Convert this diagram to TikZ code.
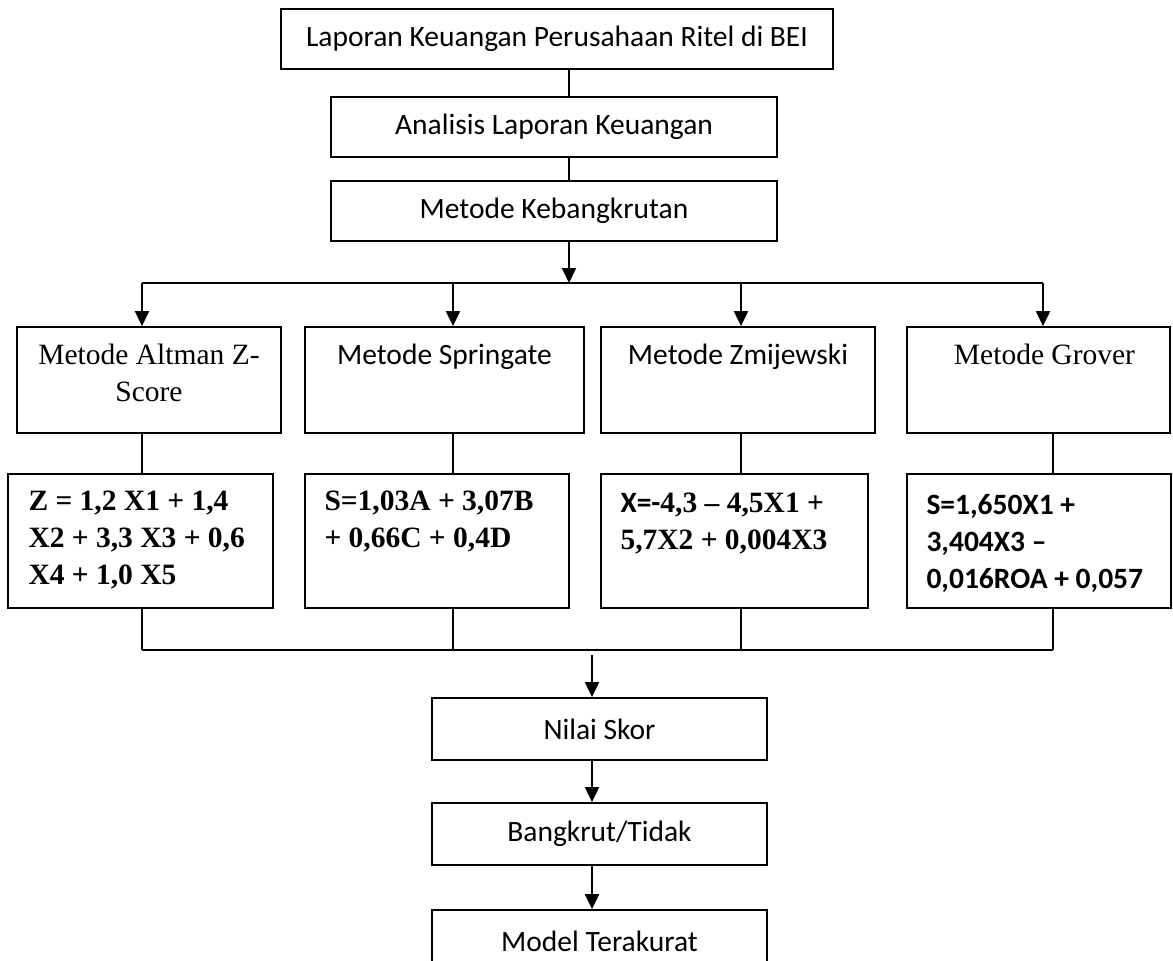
\documentclass[tikz,border=0pt]{standalone}
\usepackage{fontspec}
\setmainfont{Carlito}
\newfontfamily\timesfont{Liberation Serif}
\usetikzlibrary{arrows.meta,positioning,calc}

\begin{document}
\begin{tikzpicture}[x=0.5pt, y=-0.5pt, >={Triangle[length=7.5pt,width=7pt]},
    box/.style={rectangle, draw, line width=0.9pt, inner sep=0pt, font=\fontsize{14.75}{18.5}\selectfont},
    ttl/.style={inner sep=0pt, align=center, font=\fontsize{14.75}{18.5}\selectfont},
    fml/.style={inner sep=0pt, align=left, font=\fontsize{14.75}{18.5}\selectfont\bfseries},
    link/.style={line width=0.7pt},
    bar/.style={line width=1pt},
    arr/.style={->, line width=1pt}]
  \useasboundingbox (0,0) rectangle (1173,960);

  % Top chain
  \node[box, minimum width=276pt, minimum height=30pt] (lap) at (557,39) {Laporan Keuangan Perusahaan Ritel di BEI};
  \node[box, minimum width=223pt, minimum height=30pt] (anl) at (554,127) {Analisis Laporan Keuangan};
  \node[box, minimum width=223pt, minimum height=30pt] (kbg) at (554,211) {Metode Kebangkrutan};

  % Methods
  \node[box, minimum width=132pt, minimum height=53pt] (alt) at (149,380) {};
  \node[box, minimum width=139.5pt, minimum height=53pt] (spr) at (444.5,380) {};
  \node[box, minimum width=137pt, minimum height=53pt] (zmi) at (738,380) {};
  \node[box, minimum width=131.5pt, minimum height=53pt] (gro) at (1038.5,380) {};
  \node[ttl, anchor=base, yshift=-37.5pt] at (alt.north) {\timesfont Metode Altman Z-\\\timesfont Score};
  \node[ttl, anchor=base, yshift=-19pt] at (spr.north) {Metode Springate};
  \node[ttl, anchor=base, yshift=-19pt] at (zmi.north) {Metode Zmijewski};
  \node[ttl, anchor=base, yshift=-19pt, xshift=3pt] at (gro.north) {\timesfont Metode Grover};

  % Formulas
  \node[box, minimum width=132.5pt, minimum height=67pt] (altf) at (140.5,541) {};
  \node[box, minimum width=132pt, minimum height=67pt] (sprf) at (437,541) {};
  \node[box, minimum width=133.5pt, minimum height=67pt] (zmif) at (734.5,541) {};
  \node[box, minimum width=132pt, minimum height=67pt] (grof) at (1039,541) {};
  \node[fml, anchor=base west, xshift=10.5pt, yshift=-55.5pt] at (altf.north west)
    {\timesfont Z = 1,2 X1 + 1,4\\\timesfont X2 + 3,3 X3 + 0,6\\\timesfont X4 + 1,0 X5};
  \node[fml, anchor=base west, xshift=10pt, yshift=-37pt] at (sprf.north west)
    {\timesfont S=1,03A + 3,07B\\\timesfont + 0,66C + 0,4D};
  \node[fml, anchor=base west, xshift=10pt, yshift=-38pt] at (zmif.north west)
    {X=-{\timesfont 4,3 – 4,5X1 +}\\\timesfont 5,7X2 + 0,004X3};
  \node[fml, anchor=base west, xshift=10pt, yshift=-57.5pt] at (grof.north west)
    {S=1,650X1 +\\3,404X3 –\\0,016ROA + 0,057};

  % Result chain
  \node[box, minimum width=167.5pt, minimum height=31pt] (nil) at (599.5,729) {Nilai Skor};
  \node[box, minimum width=167.5pt, minimum height=31pt] (bkt) at (599.5,834) {Bangkrut/Tidak};
  \node[box, minimum width=167.5pt, minimum height=31pt] (mdl) at (599.5,941) {Model Terakurat};

  % Connectors
  \coordinate (spine) at (569,0);
  \coordinate (c1) at (142,283);
  \coordinate (c2) at (453,283);
  \coordinate (c3) at (741,283);
  \coordinate (c4) at (1043,283);
  \coordinate (d1) at (142,650);
  \coordinate (d4) at (1053,650);
  \coordinate (mid) at (592,655);

  \draw[link] (lap.south -| spine) -- (anl.north -| spine);
  \draw[link] (anl.south -| spine) -- (kbg.north -| spine);
  \draw[arr] (kbg.south -| spine) -- (c1 -| spine);
  \draw[bar] (c1) -- (c4);
  \draw[arr] (c1) -- (c1 |- alt.north);
  \draw[arr] (c2) -- (c2 |- spr.north);
  \draw[arr] (c3) -- (c3 |- zmi.north);
  \draw[arr] (c4) -- (c4 |- gro.north);

  \draw[link] (alt.south -| c1) -- (altf.north -| c1);
  \draw[link] (spr.south -| c2) -- (sprf.north -| c2);
  \draw[link] (zmi.south -| c3) -- (zmif.north -| c3);
  \draw[link] (gro.south -| d4) -- (grof.north -| d4);

  \draw[link] (altf.south -| d1) -- (d1);
  \draw[link] (sprf.south -| c2) -- (d1 -| c2);
  \draw[link] (zmif.south -| c3) -- (d1 -| c3);
  \draw[link] (grof.south -| d4) -- (d4);
  \draw[bar] (d1) -- (d4);

  \draw[arr] (mid) -- (mid |- nil.north);
  \draw[arr] (nil.south -| mid) -- (bkt.north -| mid);
  \draw[arr] (bkt.south -| mid) -- (mdl.north -| mid);
\end{tikzpicture}
\end{document}
